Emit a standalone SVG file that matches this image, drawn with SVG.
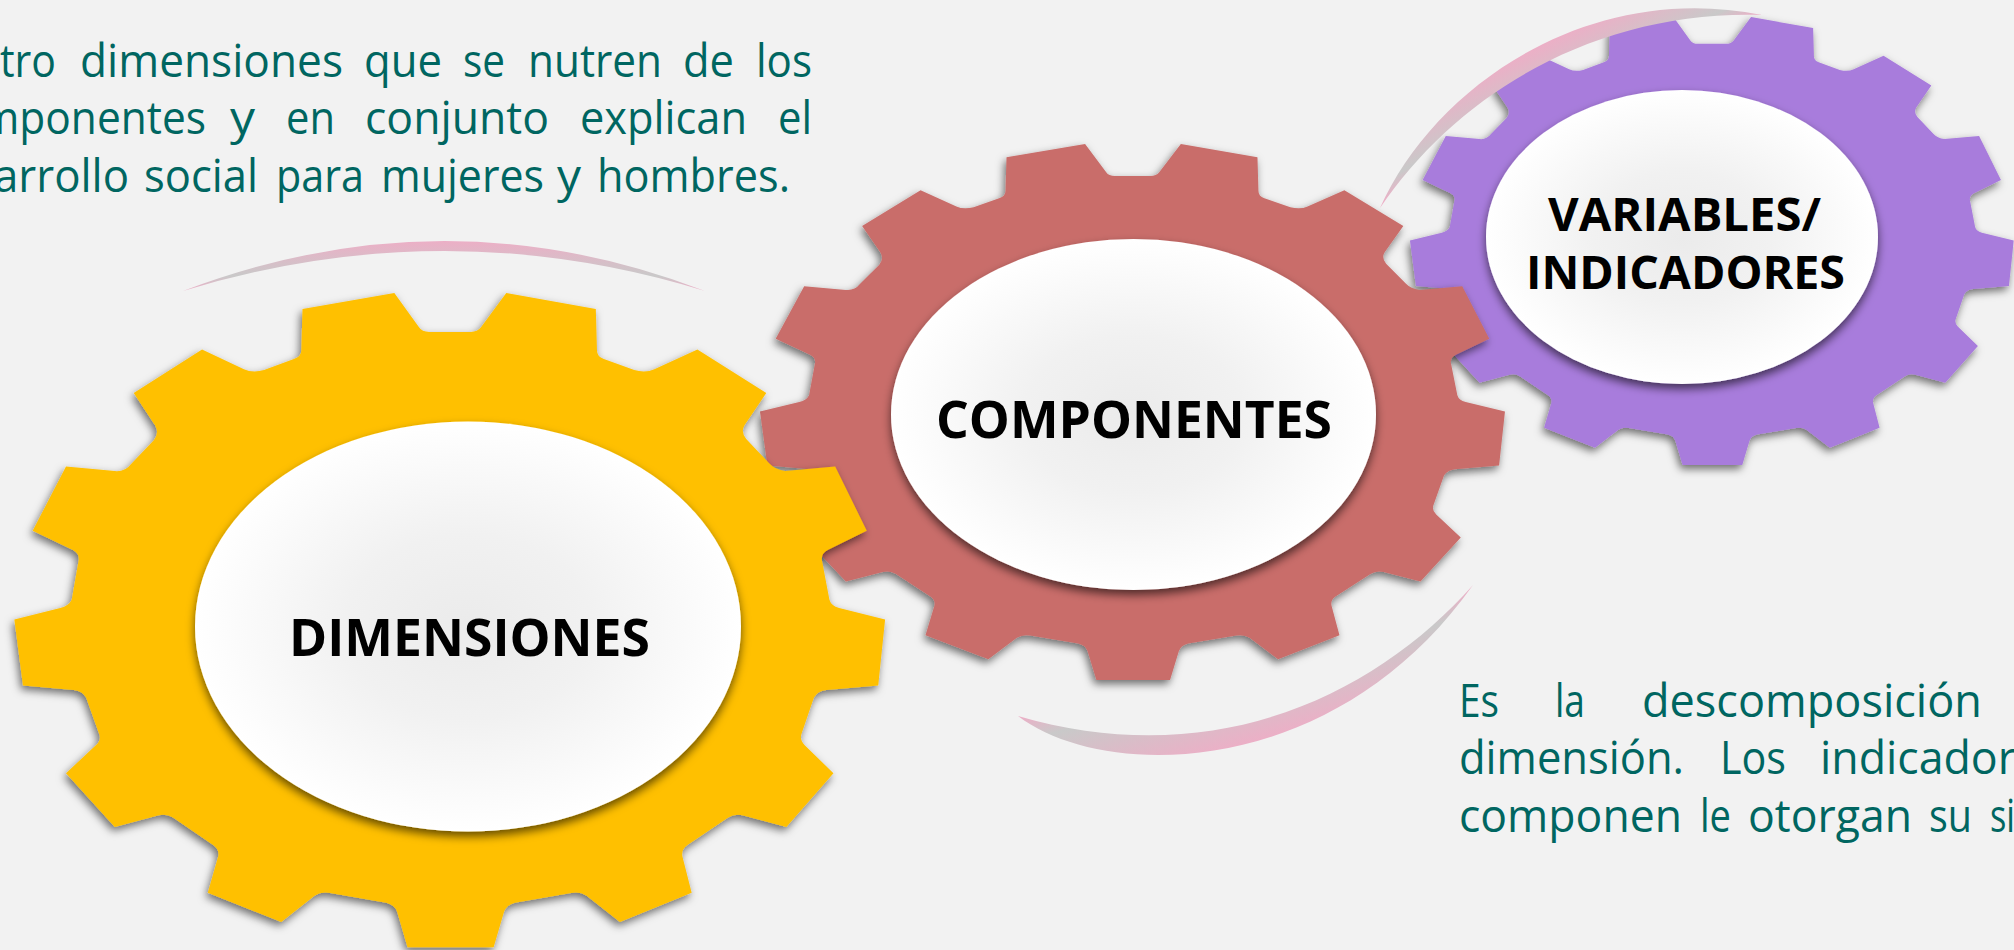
<svg xmlns="http://www.w3.org/2000/svg" xmlns:xlink="http://www.w3.org/1999/xlink" width="2014" height="950" viewBox="0 0 2014 950">
<style>
.body{font-family:"Open Sans","Noto Sans","Liberation Sans",sans-serif;font-size:46px;fill:#006661}
.label{font-family:"Open Sans","Noto Sans","Liberation Sans",sans-serif;font-weight:700;fill:#000;text-anchor:start}
.gearshape{filter:url(#gs)}
.hub{fill:url(#hubfill);filter:url(#hs)}
</style>
<defs>
<path id="gear" d="M687 137 L730 212 Q735 222 748 222 L820 222 Q832 222 838 212 L882 137 L1038 172 L1040 262 Q1040 276 1052 281 L1105 305 Q1125 312 1140 303 L1215 260 L1335 355 L1297 425 Q1290 440 1300 455 L1340 508 Q1350 522 1368 525 L1455 515 L1510 655 L1442 697 Q1430 705 1432 720 L1445 805 Q1448 818 1462 823 L1542 848 L1530 992 L1440 1002 Q1425 1004 1418 1018 L1397 1095 Q1392 1110 1402 1122 L1452 1183 L1370 1300 L1295 1275 Q1280 1270 1268 1280 L1197 1340 Q1186 1350 1189 1365 L1205 1443 L1080 1507 L1022 1450 Q1010 1440 995 1444 L897 1465 Q882 1470 878 1485 L860 1562 L710 1562 L692 1485 Q688 1470 673 1465 L575 1444 Q560 1440 548 1450 L490 1507 L362 1443 L380 1365 Q383 1350 372 1340 L302 1280 Q290 1270 275 1275 L200 1300 L115 1183 L167 1122 Q178 1110 172 1095 L150 1018 Q143 1004 128 1002 L40 992 L25 848 L105 823 Q120 818 125 805 L137 720 Q139 705 127 697 L57 655 L115 515 L200 525 Q218 527 228 510 L268 458 Q278 442 270 425 L233 355 L352 260 L425 303 Q440 312 460 305 L512 281 Q525 276 525 262 L527 172 Z"/>
<filter id="gs" x="-10%" y="-10%" width="120%" height="120%"><feDropShadow dx="-2" dy="4" stdDeviation="4" flood-color="#000" flood-opacity=".55"/></filter>
<filter id="hs" x="-10%" y="-10%" width="120%" height="125%"><feDropShadow dx="0" dy="5" stdDeviation="5" flood-color="#000" flood-opacity=".6"/></filter>
<radialGradient id="hubfill" cx=".5" cy=".5" r=".5"><stop offset="0" stop-color="#ebebeb"/><stop offset=".45" stop-color="#f1f1f1"/><stop offset="1" stop-color="#fff"/></radialGradient>
<linearGradient id="a1" gradientUnits="userSpaceOnUse" x1="445" y1="240" x2="445" y2="290"><stop offset="0" stop-color="#edaec6"/><stop offset=".72" stop-color="#c9c9c9"/><stop offset="1" stop-color="#edaec6"/></linearGradient>
<linearGradient id="a2" gradientUnits="userSpaceOnUse" x1="1272" y1="745" x2="1245" y2="650"><stop offset="0" stop-color="#f0acc6"/><stop offset=".72" stop-color="#c9c9c9"/><stop offset="1" stop-color="#f0acc6"/></linearGradient>
<linearGradient id="a3" gradientUnits="userSpaceOnUse" x1="1536" y1="41" x2="1571" y2="111"><stop offset="0" stop-color="#f0acc6"/><stop offset=".72" stop-color="#c9c9c9"/><stop offset="1" stop-color="#f0acc6"/></linearGradient>
</defs>
<rect width="2014" height="950" fill="#f2f2f2"/>
<g id="gear-variables">
<g class="gearshape"><use xlink:href="#gear" href="#gear" fill="#a87bdc" transform="matrix(.398 0 0 .3144 1400 -26)"/></g>
<ellipse class="hub" cx="1682" cy="237" rx="196" ry="147"/>
<text class="label" font-size="46"><tspan x="1548" y="231" textLength="273" lengthAdjust="spacingAndGlyphs">VARIABLES/</tspan><tspan x="1526" y="289" textLength="319" lengthAdjust="spacingAndGlyphs">INDICADORES</tspan></text>
</g>
<g id="connectors">
<path d="M183 291 Q445 191 705 291 Q445 211 183 291Z" fill="url(#a1)"/>
<path d="M1018 716 C1105 782 1335 780 1473 585 C1380 690 1220 775 1018 716Z" fill="url(#a2)"/>
<path d="M1380 208 C1435 85 1590 -20 1762 15 C1600 10 1460 90 1380 208Z" fill="url(#a3)"/>
</g>
<g id="gear-componentes">
<g class="gearshape"><use xlink:href="#gear" href="#gear" fill="#c96d6a" transform="matrix(.4911 0 0 .3761 747.7 92.5)"/></g>
<ellipse class="hub" cx="1133.500" cy="414.500" rx="242.500" ry="175.500"/>
<text class="label" font-size="52" x="936" y="438" textLength="396" lengthAdjust="spacingAndGlyphs">COMPONENTES</text>
</g>
<g id="gear-dimensiones">
<g class="gearshape"><use xlink:href="#gear" href="#gear" fill="#ffc000" transform="matrix(.574 0 0 .4592 0 230)"/></g>
<ellipse class="hub" cx="468" cy="626.500" rx="273" ry="205"/>
<text class="label" font-size="52" x="289" y="655.500" textLength="361" lengthAdjust="spacingAndGlyphs">DIMENSIONES</text>
</g>
<g id="text-dimensiones" class="body">
<text y="76.700"><tspan x="0" textLength="56" lengthAdjust="spacingAndGlyphs">tro</tspan> <tspan x="80" textLength="263" lengthAdjust="spacingAndGlyphs">dimensiones</tspan> <tspan x="364" textLength="78" lengthAdjust="spacingAndGlyphs">que</tspan> <tspan x="463" textLength="42" lengthAdjust="spacingAndGlyphs">se</tspan> <tspan x="528" textLength="134" lengthAdjust="spacingAndGlyphs">nutren</tspan> <tspan x="683" textLength="51" lengthAdjust="spacingAndGlyphs">de</tspan> <tspan x="756" textLength="56" lengthAdjust="spacingAndGlyphs">los</tspan></text>
<text y="134"><tspan x="-20" textLength="226" lengthAdjust="spacingAndGlyphs">mponentes</tspan> <tspan x="230" textLength="25" lengthAdjust="spacingAndGlyphs">y</tspan> <tspan x="286" textLength="49" lengthAdjust="spacingAndGlyphs">en</tspan> <tspan x="365" textLength="184" lengthAdjust="spacingAndGlyphs">conjunto</tspan> <tspan x="580" textLength="167" lengthAdjust="spacingAndGlyphs">explican</tspan> <tspan x="778" textLength="34" lengthAdjust="spacingAndGlyphs">el</tspan></text>
<text y="191.700"><tspan x="-6" textLength="135" lengthAdjust="spacingAndGlyphs">arrollo</tspan> <tspan x="144" textLength="114" lengthAdjust="spacingAndGlyphs">social</tspan> <tspan x="276" textLength="88" lengthAdjust="spacingAndGlyphs">para</tspan> <tspan x="381" textLength="163" lengthAdjust="spacingAndGlyphs">mujeres</tspan> <tspan x="557" textLength="24" lengthAdjust="spacingAndGlyphs">y</tspan> <tspan x="597" textLength="193" lengthAdjust="spacingAndGlyphs">hombres.</tspan></text>
</g>
<g id="text-variables" class="body">
<text y="716.700"><tspan x="1459" textLength="40" lengthAdjust="spacingAndGlyphs">Es</tspan> <tspan x="1555" textLength="30" lengthAdjust="spacingAndGlyphs">la</tspan> <tspan x="1642" textLength="340" lengthAdjust="spacingAndGlyphs">descomposición</tspan></text>
<text y="774"><tspan x="1459" textLength="225" lengthAdjust="spacingAndGlyphs">dimensión.</tspan> <tspan x="1720" textLength="66" lengthAdjust="spacingAndGlyphs">Los</tspan> <tspan x="1820" textLength="196" lengthAdjust="spacingAndGlyphs">indicador</tspan></text>
<text y="831.700"><tspan x="1459" textLength="223" lengthAdjust="spacingAndGlyphs">componen</tspan> <tspan x="1700" textLength="31" lengthAdjust="spacingAndGlyphs">le</tspan> <tspan x="1748" textLength="164" lengthAdjust="spacingAndGlyphs">otorgan</tspan> <tspan x="1929" textLength="43" lengthAdjust="spacingAndGlyphs">su</tspan> <tspan x="1990" textLength="25" lengthAdjust="spacingAndGlyphs">si</tspan></text>
</g>
</svg>
